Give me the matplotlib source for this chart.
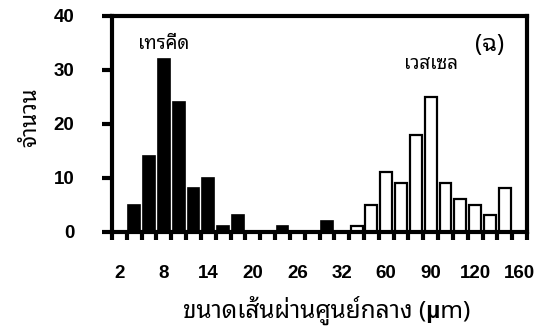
import matplotlib
matplotlib.use("Agg")
import matplotlib.pyplot as plt
from matplotlib import font_manager
from matplotlib.ft2font import FT2Font

# diameter classes (um) and counts per class
bins = ["2", "4", "6", "8", "10", "12", "14", "16", "18", "20", "22", "24", "26", "28",
        "30", "32", "40", "50", "60", "70", "80", "90", "100", "110", "120", "130", "140", "160"]
tracheid = [0, 5, 14, 32, 24, 8, 10, 1, 3, 0, 0, 1, 0, 0, 2, 0, 0, 0, 0, 0, 0, 0, 0, 0, 0, 0, 0, 0]
vessel = [0, 0, 0, 0, 0, 0, 0, 0, 0, 0, 0, 0, 0, 0, 0, 0, 1, 5, 11, 9, 18, 25, 9, 6, 5, 3, 8, 0]
yticks = [0, 10, 20, 30, 40]

# looped Thai faces first, then anything with Thai glyphs
PREFERRED = ["Tahoma", "Noto Sans Thai Looped", "Loma", "Garuda", "Waree", "Norasi",
             "Kinnari", "Laksaman", "Sarabun", "Noto Sans Thai", "Noto Sans Thai UI"]


def thai_font():
    found = []
    for f in font_manager.fontManager.ttflist:
        try:
            if ord("ก") in FT2Font(f.fname).get_charmap():
                found.append(f.name)
        except Exception:
            pass
    for name in PREFERRED:
        if name in found:
            return name
    return found[0] if found else None


th = thai_font()
fam = [th, "Liberation Sans", "DejaVu Sans"] if th else ["Liberation Sans", "DejaVu Sans"]
plt.rcParams["font.family"] = fam
num_font = ["Liberation Sans"]

fig = plt.figure(figsize=(5.49, 3.31), dpi=100)
ax = fig.add_axes([0.204, 0.3006, 0.756, 0.6511])

x = range(len(bins))
ax.bar(x, tracheid, width=0.8, color="black", edgecolor="black", linewidth=1.2)
ax.bar(x, vessel, width=0.8, color="white", edgecolor="black", linewidth=1.6)

ax.set_xlim(-0.5, len(bins) - 0.5)
ax.set_ylim(0, 40)

# labels every third class, tick marks on class boundaries
ax.set_xticks(list(x)[::3])
ax.set_xticklabels(bins[::3], fontsize=13.5, fontweight="bold", family=num_font)
ax.set_xticks([i - 0.5 for i in range(len(bins) + 1)], minor=True)
ax.tick_params(axis="x", which="major", length=0, pad=24)
ax.tick_params(axis="x", which="minor", length=5.5, width=3, direction="out")
ax.set_yticks(yticks)
ax.set_yticklabels([str(v) for v in yticks], fontsize=13.5, fontweight="bold", family=num_font)
ax.tick_params(axis="y", length=7, width=3, pad=20)

for s in ax.spines.values():
    s.set_linewidth(3)

ax.set_ylabel("จำนวน", fontsize=16, fontweight="bold")
ax.yaxis.set_label_coords(-0.17, 0.53)
ax.set_xlabel("ขนาดเส้นผ่านศูนย์กลาง (µm)", fontsize=17.5, fontweight="bold")
ax.xaxis.set_label_coords(0.518, -0.30)

ax.text(3.0, 34.8, "เทรคีด", fontsize=13.5, ha="center", va="center")
ax.text(21.05, 31.1, "เวสเซล", fontsize=13.5, ha="center", va="center")
ax.text(24.95, 34.7, "(ฉ)", fontsize=17, fontweight="bold", ha="center", va="center")

fig.savefig("out.png", dpi=100)
